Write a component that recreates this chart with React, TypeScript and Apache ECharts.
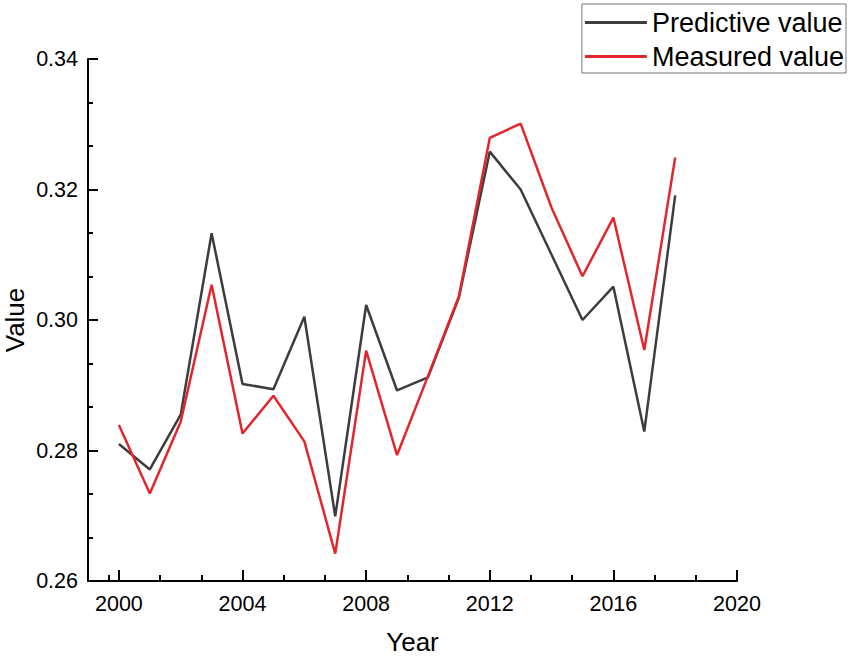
import React, { useEffect, useRef } from "react";
import * as echarts from "echarts";

const years = [2000, 2001, 2002, 2003, 2004, 2005, 2006, 2007, 2008, 2009, 2010, 2011, 2012, 2013, 2014, 2015, 2016, 2017, 2018];
const predictive = [0.281, 0.2771, 0.2855, 0.3133, 0.2902, 0.2894, 0.3005, 0.2699, 0.3023, 0.2892, 0.2912, 0.3034, 0.3258, 0.32, 0.31, 0.3, 0.3051, 0.2829, 0.3191];
const measured = [0.2839, 0.2734, 0.2844, 0.3054, 0.2826, 0.2884, 0.2814, 0.2642, 0.2953, 0.2793, 0.2914, 0.3036, 0.3279, 0.3301, 0.3172, 0.3067, 0.3157, 0.2954, 0.3249];
const xMajorTicks = [2000, 2004, 2008, 2012, 2016, 2020];
const xMinorTicks = [1999.667, 2001.333, 2002.667, 2005.333, 2006.667, 2009.333, 2010.667, 2013.333, 2014.667, 2017.333, 2018.667];

const FONT = "'Liberation Sans', Arial, sans-serif";

export default function App() {
  const ref = useRef<HTMLDivElement>(null);
  useEffect(() => {
    if (!ref.current) return;
    const chart = echarts.init(ref.current, undefined, { renderer: "svg" });
    chart.setOption({
      animation: false,
      backgroundColor: "#ffffff",
      textStyle: { fontFamily: FONT },
      grid: { left: 88, right: 114, top: 59, bottom: 75, containLabel: false, outerBoundsMode: "none" },
      legend: {
        orient: "vertical",
        right: 5,
        top: 4,
        padding: [5, 2, 3, 3],
        itemGap: 7,
        itemWidth: 62,
        itemHeight: 3,
        icon: "rect",
        borderColor: "#777",
        borderWidth: 1,
        borderRadius: 0,
        textStyle: { fontSize: 27, color: "#000", fontFamily: FONT },
        data: ["Predictive value", "Measured value"],
      },
      xAxis: [
        {
          type: "value",
          min: 1999,
          max: 2020,
          name: "Year",
          nameLocation: "middle",
          nameGap: 48,
          nameMoveOverlap: false,
          nameTextStyle: { fontSize: 26, color: "#000", fontFamily: FONT },
          axisLine: { show: true, onZero: false, lineStyle: { color: "#000", width: 2 } },
          axisTick: { show: true, inside: true, length: 11, lineStyle: { color: "#000", width: 2 }, customValues: xMajorTicks },
          axisLabel: { show: true, fontSize: 21.5, color: "#000", margin: 12, customValues: xMajorTicks, formatter: (v: number) => String(Math.round(v)) },
          splitLine: { show: false },
        },
        {
          type: "value",
          min: 1999,
          max: 2020,
          position: "bottom",
          axisLine: { show: false, onZero: false },
          axisTick: { show: true, inside: true, length: 6, lineStyle: { color: "#000", width: 2 }, customValues: xMinorTicks },
          axisLabel: { show: false },
          splitLine: { show: false },
        },
      ],
      yAxis: {
        type: "value",
        min: 0.26,
        max: 0.34,
        interval: 0.02,
        name: "Value",
        nameLocation: "middle",
        nameGap: 60,
        nameMoveOverlap: false,
        nameTextStyle: { fontSize: 26, color: "#000", fontFamily: FONT },
        axisLine: { show: true, onZero: false, lineStyle: { color: "#000", width: 2 } },
        axisTick: { show: true, inside: true, length: 10, lineStyle: { color: "#000", width: 2 } },
        minorTick: { show: true, splitNumber: 3, length: 5, lineStyle: { color: "#000", width: 2 } },
        axisLabel: { fontSize: 21.5, color: "#000", margin: 10, formatter: (v: number) => v.toFixed(2) },
        splitLine: { show: false },
        minorSplitLine: { show: false },
      },
      series: [
        {
          name: "Predictive value",
          type: "line",
          xAxisIndex: 0,
          symbol: "none",
          color: "#3d3d3d",
          lineStyle: { color: "#3d3d3d", width: 2.5 },
          data: years.map((y, i) => [y, predictive[i]]),
        },
        {
          name: "Measured value",
          type: "line",
          xAxisIndex: 0,
          symbol: "none",
          color: "#e2262e",
          lineStyle: { color: "#e2262e", width: 2.5 },
          data: years.map((y, i) => [y, measured[i]]),
        },
      ],
    });
    return () => chart.dispose();
  }, []);
  return <div ref={ref} style={{ position: "absolute", left: 0, top: 0, width: 851, height: 656 }} />;
}
